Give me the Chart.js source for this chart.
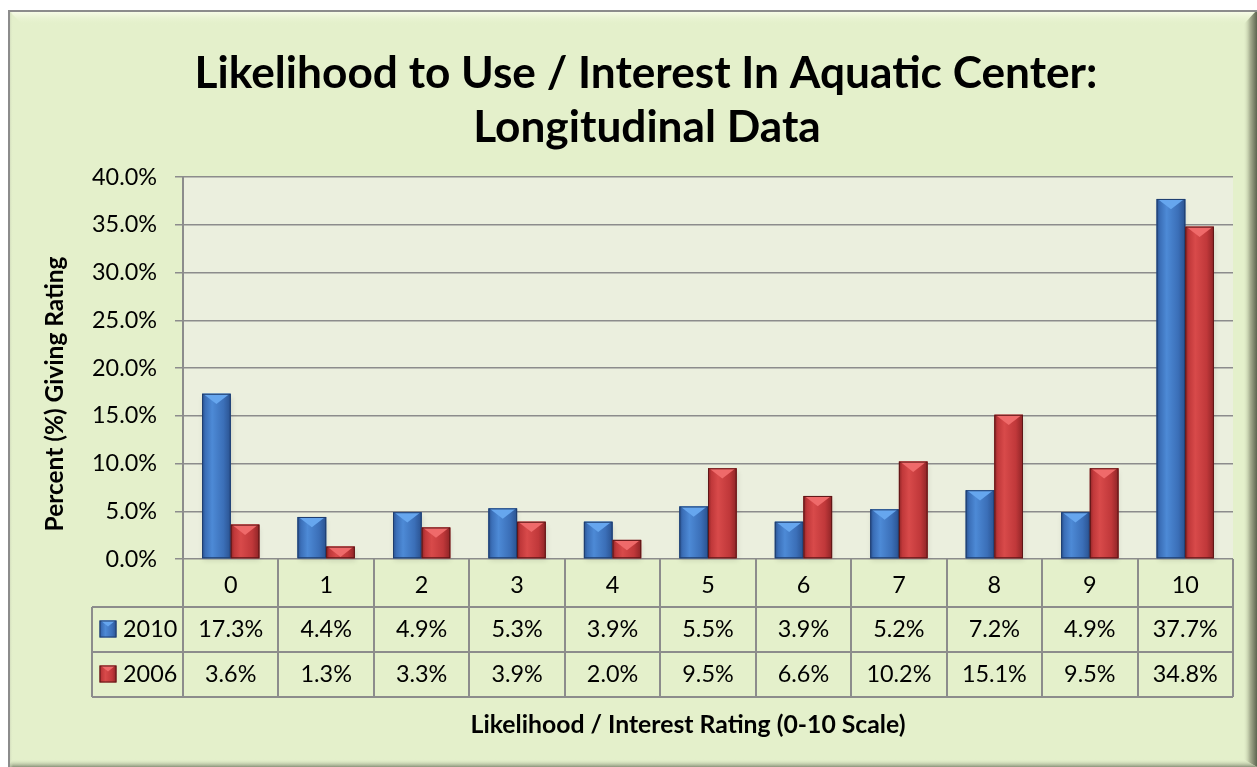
<!DOCTYPE html>
<html>
<head>
<meta charset="utf-8">
<script src="https://cdn.jsdelivr.net/npm/chart.js@4.4.1/dist/chart.umd.min.js"></script>
<style>
html,body{margin:0;padding:0;background:#fff;}
canvas{display:block;}
</style>
</head>
<body>
<canvas id="chart" width="1257" height="767"></canvas>
<script>
var FONT='Lato';
var titleLines=['Likelihood to Use / Interest In Aquatic Center:','Longitudinal Data'];
var yTitle='Percent (%) Giving Rating';
var xTitle='Likelihood / Interest Rating (0-10 Scale)';
var categories=['0','1','2','3','4','5','6','7','8','9','10'];
var seriesNames=['2010','2006'];
var values2010=[17.3,4.4,4.9,5.3,3.9,5.5,3.9,5.2,7.2,4.9,37.7];
var values2006=[3.6,1.3,3.3,3.9,2.0,9.5,6.6,10.2,15.1,9.5,34.8];
var yMin=0, yMax=40, yStep=5;

// bar shading: [dark edge, light, base, top chevron, outline]
var blueShade=['#2a5290','#4d8ad6','#3b6fb8','#66a6ee','#1e3d6e'];
var redShade=['#8e2426','#d84a4a','#c0383a','#ef6a6a','#5e1617'];

function fitSize(text,weight,target)
{
    let c=document.createElement('canvas').getContext('2d');
    c.font=weight+' 100px '+FONT;
    return 100*target/c.measureText(text).width;
}

function shadeBar(ctx,x,top,w,bottom,shade)
{
    let l=x-w/2, h=bottom-top;
    if(h<=0) return;
    let g=ctx.createLinearGradient(l,0,l+w,0);
    g.addColorStop(0,shade[0]);
    g.addColorStop(0.12,shade[2]);
    g.addColorStop(0.35,shade[1]);
    g.addColorStop(0.75,shade[2]);
    g.addColorStop(1,shade[0]);
    ctx.fillStyle=g;
    ctx.fillRect(l,top,w,h);
    let th=Math.min(h,w*0.36);
    ctx.beginPath();
    ctx.moveTo(l+1,top);
    ctx.lineTo(l+w-1,top);
    ctx.lineTo(x,top+th);
    ctx.closePath();
    ctx.fillStyle=shade[3];
    ctx.fill();
    ctx.strokeStyle=shade[4];
    ctx.lineWidth=1;
    ctx.strokeRect(l+0.5,top+0.5,w-1,h-1);
}

var framePlugin={
    id:'frame',
    beforeDraw:function(chart)
    {
        let ctx=chart.ctx, W=chart.width, H=chart.height;
        let L=8, T=10;
        ctx.save();
        ctx.fillStyle='#ffffff';
        ctx.fillRect(0,0,W,H);
        ctx.fillStyle='#e4f0cb';
        ctx.fillRect(L,T,W-L,H-T);
        // top bevel
        let g=ctx.createLinearGradient(0,T,0,T+15);
        g.addColorStop(0,'#fdfff0');
        g.addColorStop(1,'rgba(228,240,203,0)');
        ctx.fillStyle=g;
        ctx.beginPath();
        ctx.moveTo(L,T);ctx.lineTo(W,T);ctx.lineTo(W-14,T+15);ctx.lineTo(L+15,T+15);ctx.closePath();
        ctx.fill();
        // right bevel
        g=ctx.createLinearGradient(W-14,0,W,0);
        g.addColorStop(0,'rgba(228,240,203,0)');
        g.addColorStop(0.5,'#a8b092');
        g.addColorStop(1,'#5d6550');
        ctx.fillStyle=g;
        ctx.beginPath();
        ctx.moveTo(W,T);ctx.lineTo(W,H);ctx.lineTo(W-14,H-8);ctx.lineTo(W-14,T+15);ctx.closePath();
        ctx.fill();
        // bottom bevel
        g=ctx.createLinearGradient(0,H-8,0,H);
        g.addColorStop(0,'rgba(228,240,203,0)');
        g.addColorStop(1,'#8a937a');
        ctx.fillStyle=g;
        ctx.beginPath();
        ctx.moveTo(L,H);ctx.lineTo(W,H);ctx.lineTo(W-14,H-8);ctx.lineTo(L+5,H-8);ctx.closePath();
        ctx.fill();
        // left bevel
        g=ctx.createLinearGradient(L,0,L+5,0);
        g.addColorStop(0,'#b8bfa8');
        g.addColorStop(1,'rgba(228,240,203,0)');
        ctx.fillStyle=g;
        ctx.fillRect(L,T,5,H-T);
        // outer border
        ctx.strokeStyle='#8c8c8c';
        ctx.lineWidth=2;
        ctx.beginPath();
        ctx.moveTo(L+1,H);ctx.lineTo(L+1,T+1);ctx.lineTo(W,T+1);
        ctx.stroke();
        // plot area
        let a=chart.chartArea;
        ctx.fillStyle='#ebefde';
        ctx.fillRect(a.left,a.top,a.right-a.left,a.bottom-a.top);
        ctx.restore();
    },
    afterDraw:function(chart)
    {
        let ctx=chart.ctx;
        ctx.save();
        ctx.fillStyle='#000';
        // chart title
        let ts=fitSize(titleLines[0],'bold',903);
        ctx.font='bold '+ts+'px '+FONT;
        ctx.textAlign='center';
        ctx.textBaseline='alphabetic';
        ctx.fillText(titleLines[0],646,88);
        ctx.fillText(titleLines[1],647,142);
        // axis titles
        let xs=fitSize(xTitle,'bold',435);
        ctx.font='bold '+xs+'px '+FONT;
        ctx.textBaseline='middle';
        ctx.fillText(xTitle,688,725);
        let ys=fitSize(yTitle,'bold',275);
        ctx.font='bold '+ys+'px '+FONT;
        ctx.translate(55,394);
        ctx.rotate(-Math.PI/2);
        ctx.fillText(yTitle,0,0);
        ctx.restore();
    }
};

var barLook={
    id:'barLook',
    beforeDatasetsDraw:function(chart)
    {
        let ctx=chart.ctx;
        ctx.save();
        ctx.shadowColor='rgba(0,0,0,0.35)';
        ctx.shadowBlur=5;
        ctx.shadowOffsetY=3;
        ctx.shadowOffsetX=1;
        ctx.fillStyle='rgba(0,0,0,0.3)';
        chart.data.datasets.forEach(function(ds,i)
        {
            chart.getDatasetMeta(i).data.forEach(function(bar)
            {
                let p=bar.getProps(['x','y','base','width'],true);
                ctx.fillRect(p.x-p.width/2,p.y,p.width,p.base-p.y);
            });
        });
        ctx.restore();
    },
    afterDatasetsDraw:function(chart)
    {
        let ctx=chart.ctx;
        ctx.save();
        chart.data.datasets.forEach(function(ds,i)
        {
            let shade=i==0?blueShade:redShade;
            chart.getDatasetMeta(i).data.forEach(function(bar)
            {
                let p=bar.getProps(['x','y','base','width'],true);
                shadeBar(ctx,p.x,p.y,p.width,p.base,shade);
            });
        });
        ctx.restore();
    }
};

var tablePlugin={
    id:'dataTable',
    afterDraw:function(chart)
    {
        let ctx=chart.ctx, xs=chart.scales.x, a=chart.chartArea;
        let n=categories.length, cw=(a.right-a.left)/n;
        let rowH=45, r0=a.bottom, r1=r0+48, r2=r1+rowH, r3=r2+rowH;
        let leftX=92;
        ctx.save();
        ctx.strokeStyle='#8c8c8c';
        ctx.lineWidth=2;
        ctx.beginPath();
        for(let i=0;i<=n;i++)
        {
            let x=Math.round(xs.getPixelForValue(i)-cw/2);
            if(i==n) x=Math.round(a.right);
            ctx.moveTo(x,r0);ctx.lineTo(x,r3);
        }
        ctx.moveTo(leftX,r1);ctx.lineTo(leftX,r3);
        [r1,r2,r3].forEach(function(y){ctx.moveTo(leftX,y);ctx.lineTo(a.right,y);});
        ctx.stroke();
        // legend keys + series labels
        let fs=chart.options.scales.x.ticks.font.size;
        ctx.font=fs+'px '+FONT;
        ctx.fillStyle='#000';
        ctx.textBaseline='middle';
        let rows=[values2010,values2006];
        rows.forEach(function(vals,r)
        {
            let cy=(r==0?(r1+r2)/2:(r2+r3)/2);
            let shade=r==0?blueShade:redShade;
            shadeBar(ctx,108,cy-9,17,cy+8,shade);
            ctx.fillStyle='#000';
            ctx.textAlign='left';
            ctx.fillText(seriesNames[r],123,cy);
            ctx.textAlign='center';
            vals.forEach(function(v,i)
            {
                ctx.fillText(v.toFixed(1)+'%',xs.getPixelForValue(i),cy);
            });
        });
        ctx.restore();
    }
};

window.onload=function()
{
    let tickSize=fitSize('40.0%','normal',65);
    let c=document.getElementById('chart').getContext('2d');
    new Chart(c,{
        type:'bar',
        data:{
            labels:categories,
            datasets:[
                {label:seriesNames[0],data:values2010,backgroundColor:blueShade[2],borderWidth:0},
                {label:seriesNames[1],data:values2006,backgroundColor:redShade[2],borderWidth:0}
            ]
        },
        options:{
            responsive:false,
            animation:false,
            devicePixelRatio:1,
            layout:{padding:{top:177,right:24,bottom:0,left:0}},
            datasets:{bar:{categoryPercentage:0.6,barPercentage:1.0}},
            plugins:{legend:{display:false},tooltip:{enabled:false},title:{display:false}},
            scales:{
                x:{
                    grid:{display:false,drawTicks:false},
                    border:{display:false},
                    ticks:{color:'#000',padding:12,font:{family:FONT,size:tickSize},maxRotation:0},
                    afterFit:function(s){s.height=208;}
                },
                y:{
                    min:yMin,max:yMax,
                    grid:{color:'#8c8c8c',lineWidth:1.5,tickLength:8,drawTicks:true},
                    border:{display:true,color:'#8c8c8c',width:2},
                    ticks:{stepSize:yStep,color:'#000',padding:18,font:{family:FONT,size:tickSize},
                        callback:function(v){return v.toFixed(1)+'%';}},
                    afterFit:function(s){s.width=183;}
                }
            }
        },
        plugins:[framePlugin,barLook,tablePlugin]
    });
};
</script>
</body>
</html>
